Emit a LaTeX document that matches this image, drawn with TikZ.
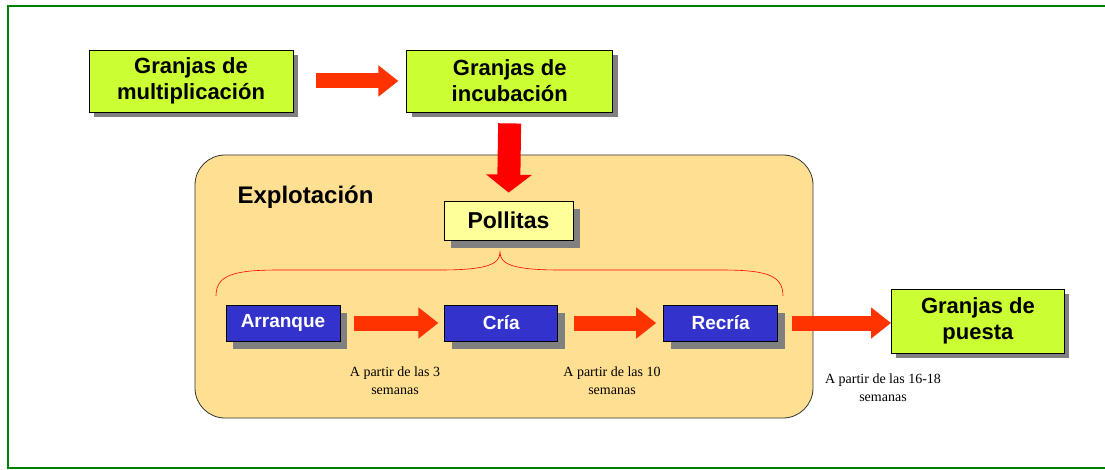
\documentclass[tikz,border=0pt]{standalone}
\usepackage{fontspec}
\setmainfont{Liberation Serif}
\setsansfont{Liberation Sans}
\usepackage{tikz}
\usetikzlibrary{arrows.meta, positioning, shadows}

\definecolor{limefill}{HTML}{CCFF33}
\definecolor{palefill}{HTML}{FFFF99}
\definecolor{bluefill}{HTML}{3333CC}
\definecolor{farmfill}{HTML}{FFE093}
\definecolor{arrowred}{HTML}{FF3300}
\definecolor{framegreen}{HTML}{008000}

\begin{document}
\begin{tikzpicture}[
  x=1pt, y=-1pt,
  farm/.style={draw, line width=0.8pt, fill=limefill, align=center, inner sep=0pt,
    minimum width=204pt, minimum height=62pt,
    font=\fontsize{22}{26}\selectfont\sffamily\bfseries,
    drop shadow={shadow xshift=5pt, shadow yshift=-5pt, fill=gray, opacity=1}},
  stage/.style={draw, line width=0.8pt, fill=bluefill, text=white, inner sep=0pt,
    minimum width=114pt, minimum height=36pt,
    font=\fontsize{19}{22}\selectfont\sffamily\bfseries,
    drop shadow={shadow xshift=7pt, shadow yshift=-8pt, fill=gray, opacity=1}},
  note/.style={align=center, font=\fontsize{14}{18}\selectfont},
  bigarrow/.style={draw=arrowred, line width=15pt, -{Triangle[length=20pt, width=30pt]}},
  node distance=113pt
]
\useasboundingbox (0,0) rectangle (1105,470);
\clip (0,0) rectangle (1105,470);
\draw[framegreen, line width=2pt] (8,6) rectangle (1130,468);

% upper row
\node[farm] (mult) at (191,81) {Granjas de\\multiplicación};
\node[farm, right=of mult, minimum width=206pt] (incub) {Granjas de\\incubación};

% explotacion
\node[draw=black!80, line width=0.8pt, fill=farmfill, rounded corners=30pt,
  minimum width=618pt, minimum height=263pt] (explot) at (504,286.5) {};
\node[anchor=west, font=\fontsize{24}{28}\selectfont\sffamily\bfseries] (explotlabel) at (234,197) {Explotación};
\node[draw, line width=0.8pt, fill=palefill, inner sep=0pt, minimum width=129pt, minimum height=39pt,
  font=\fontsize{23}{26}\selectfont\sffamily\bfseries,
  drop shadow={shadow xshift=7pt, shadow yshift=-8pt, fill=gray, opacity=1}] (pollitas) at (508.5,220.5) {Pollitas};

\node[stage] (arranque) at (283,323) {Arranque};
\node[stage, right=104pt of arranque, minimum width=113pt] (cria) {Cría};
\node[stage, right=105pt of cria] (recria) {Recría};
\node[farm, right=of recria, yshift=2pt, minimum width=173pt, minimum height=64pt] (puesta) {Granjas de\\puesta};

% brace
\draw[red, line width=0.6pt] (216,296) .. controls (216,274) and (236,270) .. (280,270) -- (440,270)
  .. controls (488,270) and (500,264) .. (500,252)
  .. controls (500,264) and (512,270) .. (560,270) -- (720,270)
  .. controls (764,270) and (783,274) .. (783,296);

% arrows
\draw[bigarrow, shorten <=23pt, shorten >=8pt] (mult) -- (incub);
\draw[draw=red, line width=23pt, -{Triangle[length=18pt, width=45pt]}, shorten <=11pt, shorten >=8pt] (incub.south) -- (pollitas.north);
\draw[bigarrow, shorten <=14pt, shorten >=6pt] (arranque) -- (cria);
\draw[bigarrow, shorten <=16pt, shorten >=7pt] (cria) -- (recria);
\draw[bigarrow, shorten <=14pt] (recria.east) -- (recria.east -| puesta.west);

% notes
\node[note] (note1) at (395,381) {A partir de las 3\\semanas};
\node[note] (note2) at (612,381) {A partir de las 10\\semanas};
\node[note] (note3) at (883,388) {A partir de las 16-18\\semanas};
\end{tikzpicture}
\end{document}
